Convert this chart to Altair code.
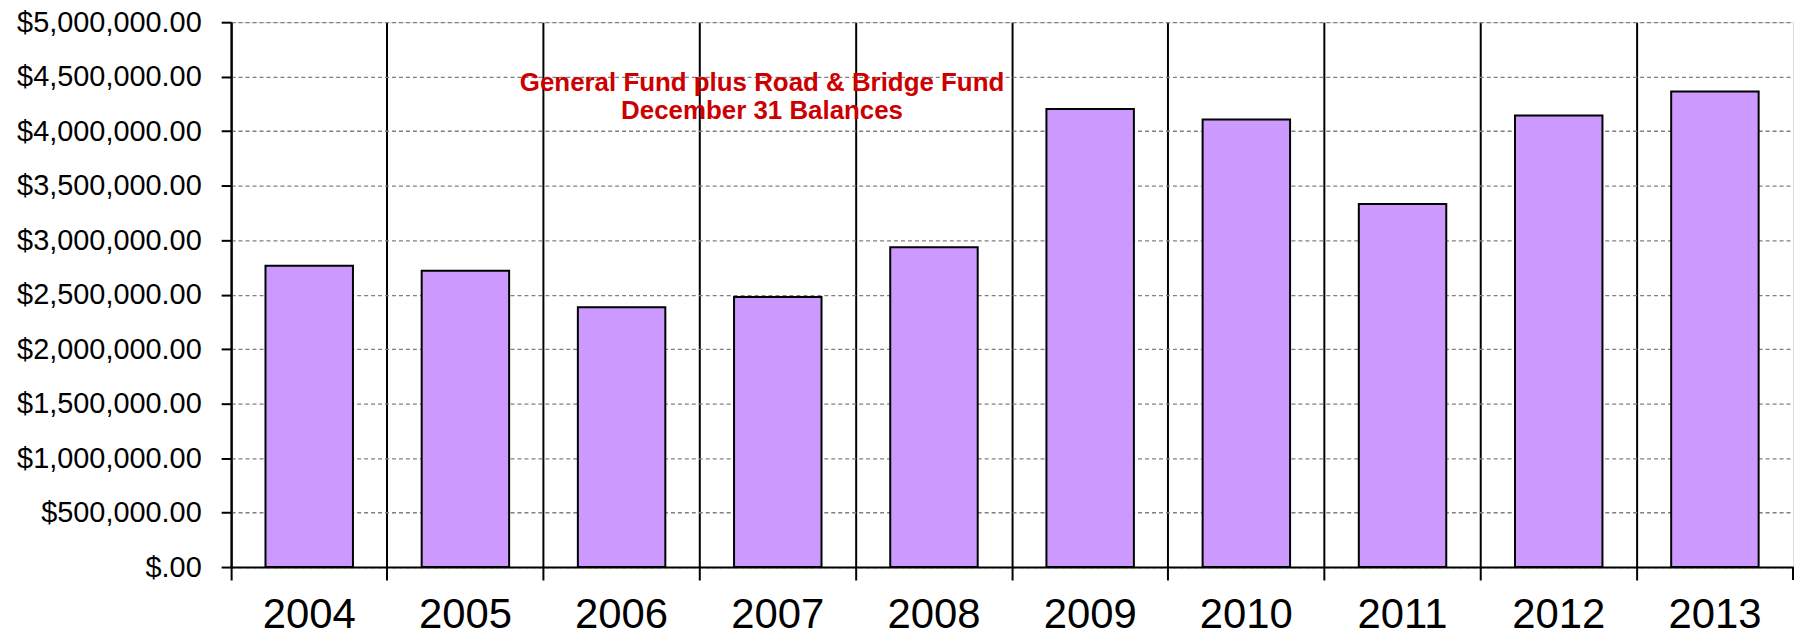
import altair as alt
import pandas as pd

# ---- data ----
years = ["2004", "2005", "2006", "2007", "2008", "2009", "2010", "2011", "2012", "2013"]
balances = [2765000, 2720000, 2385000, 2478000, 2935000, 4204000, 4106000, 3332000, 4143000, 4365000]
title_lines = ["General Fund plus Road & Bridge Fund", "December 31 Balances"]
y_tick_values = [0, 500000, 1000000, 1500000, 2000000, 2500000, 3000000, 3500000, 4000000, 4500000, 5000000]

df = pd.DataFrame({"year": years, "balance": balances})

W, H = 1568, 547
FONT = "Liberation Sans"

x_enc = alt.X(
    "year:N",
    sort=years,
    scale=alt.Scale(paddingInner=0, paddingOuter=0),
    axis=alt.Axis(
        title=None,
        bandPosition=0,
        grid=True,
        gridColor="black",
        gridWidth=2,
        gridOpacity=1,
        domainColor="black",
        domainWidth=2,
        ticks=True,
        tickColor="black",
        tickWidth=2,
        tickSize=13,
        labelAngle=0,
        labelFont=FONT,
        labelFontSize=42,
        labelColor="black",
        labelPadding=48,
        labelBaseline="alphabetic",
    ),
)

y_enc = alt.Y(
    "balance:Q",
    scale=alt.Scale(domain=[0, 5000000], nice=False),
    axis=alt.Axis(
        title=None,
        values=y_tick_values,
        labelExpr="datum.value == 0 ? '$.00' : format(datum.value, '$,.2f')",
        grid=True,
        gridColor="#808080",
        gridDash=[4, 3],
        gridWidth=1.3,
        gridOpacity=1,
        domainColor="black",
        domainWidth=2,
        tickColor="black",
        tickWidth=2,
        tickSize=10,
        labelFont=FONT,
        labelFontSize=29,
        labelColor="black",
        labelPadding=20,
        labelLimit=400,
    ),
)

bars = alt.Chart(df).mark_bar(
    width=alt.RelativeBandSize(0.56),
    color="#CC99FF",
    stroke="black",
    strokeWidth=2,
).encode(x=x_enc, y=y_enc)

title_text = alt.Chart(alt.Data(values=[{"t": title_lines}])).mark_text(
    font=FONT,
    fontSize=26,
    fontWeight="bold",
    color="#CC0000",
    align="center",
    baseline="alphabetic",
    lineHeight=28,
).encode(x=alt.value(533), y=alt.value(69), text="t:N")

right_tick = alt.Chart(alt.Data(values=[{"a": 1}])).mark_rule(
    color="black", strokeWidth=2
).encode(x=alt.value(W), y=alt.value(H), y2=alt.value(H + 13))

chart = (
    alt.layer(bars, title_text, right_tick)
    .properties(
        width=W,
        height=H,
        autosize=alt.AutoSizeParams(type="none"),
        padding={"left": 224, "top": 13, "right": 1, "bottom": 72},
    )
    .configure_view(stroke="#808080", strokeWidth=1.5)
    .configure(background="white")
)

chart.save("out.html", embed_options={"renderer": "svg", "actions": False})
